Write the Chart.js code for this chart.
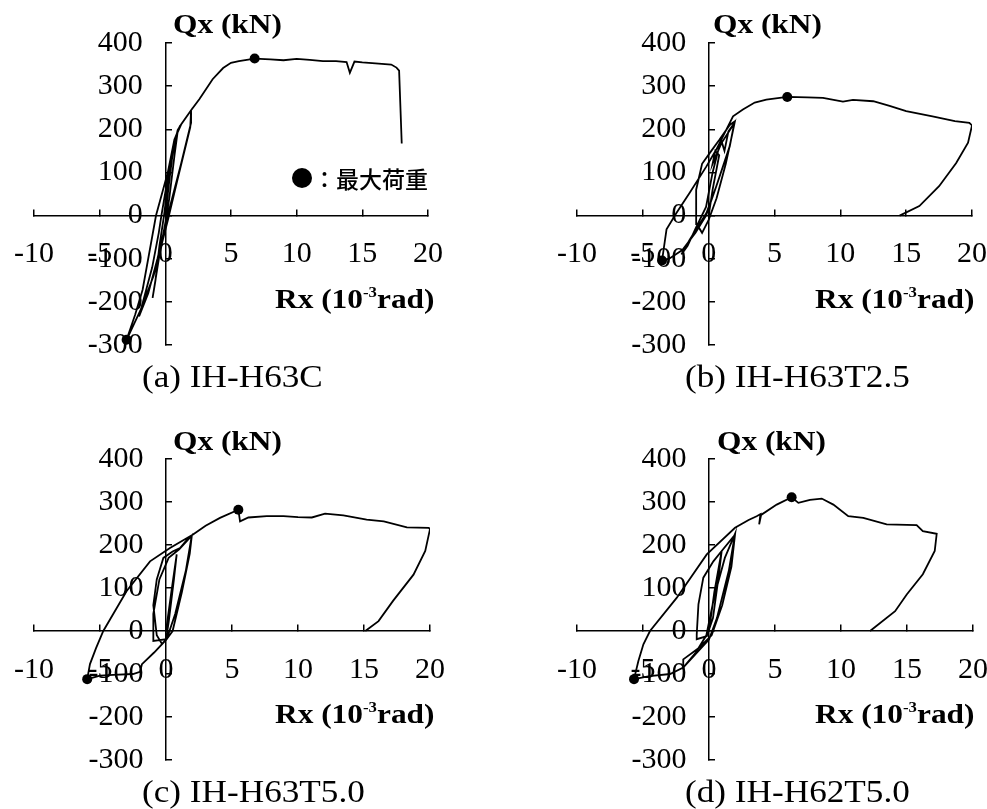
<!DOCTYPE html>
<html>
<head>
<meta charset="utf-8">
<script src="https://cdn.jsdelivr.net/npm/chart.js@4/dist/chart.umd.min.js"></script>
<style>
  body { margin: 0; background: #fff; }
  #page { position: relative; width: 987px; height: 809px; overflow: hidden; }
  canvas { position: absolute; }
  .t { position: absolute; font-family: "Liberation Serif", "Times New Roman", serif; line-height: 1; white-space: nowrap; color: #000; transform-origin: 0 0; }
  .ax { font-size: 28px; font-weight: bold; transform: scaleX(1.12); }
  .cap { font-size: 32px; transform: scaleX(1.1); }
  .ax sup { font-size: 15px; vertical-align: 11px; line-height: 0; }
  .leg { position: absolute; font-family: "Noto Sans CJK JP", sans-serif; font-size: 23px; font-weight: 500; line-height: 23px; white-space: nowrap; }
  .dot { position: absolute; width: 20px; height: 20px; border-radius: 50%; background: #000; }
</style>
</head>
<body>
<div id="page">
  <canvas id="gA" width="494" height="400" style="left:-16px;top:0"></canvas>
  <canvas id="gB" width="495" height="400" style="left:527px;top:0"></canvas>
  <canvas id="gC" width="496" height="409" style="left:-16px;top:400px"></canvas>
  <canvas id="gD" width="496" height="409" style="left:527px;top:400px"></canvas>

  <div class="t ax" style="left:173px;top:10px">Qx (kN)</div>
  <div class="t ax" style="left:275px;top:285px">Rx (10<sup>-3</sup>rad)</div>
  <div class="t cap" style="left:142px;top:360px">(a) IH-H63C</div>
  <div class="dot" style="left:292px;top:168px"></div>
  <div class="leg" style="left:313px;top:167px">：最大荷重</div>

  <div class="t ax" style="left:713px;top:10px">Qx (kN)</div>
  <div class="t ax" style="left:815px;top:285px">Rx (10<sup>-3</sup>rad)</div>
  <div class="t cap" style="left:685px;top:360px">(b) IH-H63T2.5</div>

  <div class="t ax" style="left:173px;top:427px">Qx (kN)</div>
  <div class="t ax" style="left:275px;top:700px">Rx (10<sup>-3</sup>rad)</div>
  <div class="t cap" style="left:142px;top:775px">(c) IH-H63T5.0</div>

  <div class="t ax" style="left:717px;top:427px">Qx (kN)</div>
  <div class="t ax" style="left:815px;top:700px">Rx (10<sup>-3</sup>rad)</div>
  <div class="t cap" style="left:685px;top:775px">(d) IH-H62T5.0</div>
</div>
<script>
// eixos
var rxTicks = [-10, -5, 0, 5, 10, 15, 20];
var qxTicks = [-300, -200, -100, 0, 100, 200, 300, 400];

// (a) IH-H63C
var rxA = [0, 0.3, 0.69, 0.94, 0.7, 0.3, 0.1, -0.46, -0.97, -0.75, -0.45, -0.1, 0.3, 0.8, 0.94, 1.2, 1.96, 1.96, 1.2, 0.18, -0.6, -1.3, -2.0, -1.7, -1.0, -0.5, -0.3, 0.2, 0.69, 1.2, 1.96, 1.9, 0.9, 0.2, -0.9, -1.9, -2.95, -2.3, -1.73, -0.71, 0.18, 0.69, 1.2, 1.96, 2.6, 3.6, 4.4, 5.0, 5.6, 6.8, 8, 9, 10, 11, 12, 13, 13.8, 14.05, 14.4, 15, 16, 17.2, 17.6, 17.8, 18.0];
var qxA = [0, 80, 176, 195, 140, 40, 0, -94, -191, -150, -70, 0, 100, 180, 198, 211, 244, 215, 120, 0, -100, -180, -234, -200, -120, -40, 0, 90, 176, 211, 244, 205, 80, -10, -140, -220, -288, -230, -172, 0, 99, 176, 211, 244, 270, 316, 342, 354, 358, 364, 362, 360, 363, 361, 358, 358, 356, 331, 357, 355, 353, 350, 343, 336, 167];
var maxRxA = [6.8, -2.95];
var maxQxA = [364, -288];

// (b) IH-H63T2.5
var rxB = [0, 0.3, 0.8, 0.5, 0.3, 1.0, 1.2, 1.5, 1.97, 1.8, 1.3, 0.6, 0, -0.5, -0.9, -0.95, -0.5, 0.2, 0.8, 1.6, 1.97, 1.6, 0.58, -0.17, -1.44, -2.07, -1.6, -1.0, -0.2, 0.3, 0.8, 1.97, 1.6, 0.58, -0.2, -1.0, -2.0, -3.0, -3.54, -3.2, -2.45, -1.44, -0.17, 0.58, 1.85, 2.6, 3.5, 4.38, 5.97, 7.5, 8.68, 10.2, 10.96, 12.5, 13.74, 15.0, 17.0, 18.7, 19.8, 20.0, 19.7, 18.8, 17.5, 16.0, 14.5];
var qxB = [0, 60, 140, 150, 120, 170, 150, 195, 215, 190, 120, 40, -10, -40, -20, 60, 120, 150, 175, 210, 218, 160, 68, 6, -56, -90, -70, -30, 20, 100, 160, 215, 161, 68, 0, -40, -80, -100, -104, -32, 6, 53, 114, 153, 230, 246, 262, 269, 275, 274, 273, 264, 268, 265, 254, 242, 230, 219, 215, 209, 169, 122, 68, 22, 0];
var maxRxB = [5.97, -3.54];
var maxQxB = [275, -104];

// (c) IH-H63T5.0
var rxC = [0, 0.4, 0.81, 0.6, 0.2, 0, -0.3, -0.7, -0.96, -0.7, -0.2, 0.5, 1.06, 1.69, 1.95, 1.8, 1.2, 0.5, 0.05, -0.96, -0.96, -0.5, 0.2, 1.0, 1.95, 1.5, 0.7, 0.05, -0.9, -1.82, -1.97, -2.5, -4, -5.0, -5.97, -5.76, -5.3, -4.75, -2.98, -1.21, 0.3, 2.02, 3.0, 4.09, 5.48, 5.61, 6.24, 7.63, 8.9, 10, 11.05, 12.05, 13.44, 15.2, 16.5, 18.25, 19.9, 20, 19.64, 18.75, 17.2, 16.1, 15.1];
var qxC = [0, 90, 178, 120, 20, -20, -30, -10, 60, 120, 170, 185, 193, 216, 220, 180, 90, 0, -19, -23, 40, 120, 170, 190, 222, 140, 40, -19, -50, -77, -95, -100, -102, -104, -112, -77, -40, 0, 93, 162, 193, 224, 245, 263, 282, 255, 264, 267, 267, 265, 264, 273, 269, 259, 255, 241, 240, 237, 186, 131, 70, 23, 0];
var maxRxC = [5.48, -5.97];
var maxQxC = [282, -112];

// (d) IH-H62T5.0
var rxD = [0, 0.4, 0.96, 0.7, 0.3, -0.17, -0.93, -0.93, -0.8, -0.43, 0.33, 0.96, 1.97, 1.7, 1.0, 0.2, -0.8, -1.95, -1.95, -1.0, -0.2, 0.4, 1.2, 1.97, 1.5, 0.6, 0, -1.95, -2.95, -4.5, -5.68, -5.35, -4.97, -4.47, -2.45, -0.17, 1.97, 3.0, 3.61, 3.9, 3.8, 3.95, 5.13, 6.26, 6.77, 7.65, 8.54, 9.42, 10.55, 11.69, 13.46, 15.73, 16.2, 17.25, 17.1, 16.2, 14.98, 14.1, 12.2];
var qxD = [0, 90, 186, 120, 30, -12, -19, -8, 62, 124, 162, 186, 224, 150, 60, -10, -40, -66, -85, -50, -10, 80, 170, 226, 140, 30, -20, -85, -100, -105, -112, -70, -31, 0, 77, 178, 240, 258, 267, 272, 248, 270, 294, 311, 298, 305, 308, 294, 267, 263, 248, 246, 232, 226, 186, 132, 85, 46, 0];
var maxRxD = [6.26, -5.68];
var maxQxD = [311, -112];

function pontos(xs, ys) {
    var lista = [];
    for (var i = 0; i < xs.length; i++) {
        lista.push({ x: xs[i], y: ys[i] });
    }
    return lista;
}

function plotar(id, xs, ys, mx, my, pad) {
    var ctx = document.getElementById(id).getContext('2d');
    var fonte = { family: '"Liberation Serif", "Times New Roman", serif', size: 30 };
    return new Chart(ctx, {
        type: 'scatter',
        data: {
            datasets: [{
                data: pontos(xs, ys),
                showLine: true,
                borderColor: '#000',
                borderWidth: 1.8,
                pointRadius: 0,
                tension: 0
            }, {
                data: pontos(mx, my),
                showLine: false,
                pointRadius: 5,
                pointBackgroundColor: '#000',
                pointBorderColor: '#000',
                pointBorderWidth: 0
            }]
        },
        options: {
            responsive: false,
            animation: false,
            layout: { padding: pad },
            plugins: { legend: { display: false }, tooltip: { enabled: false } },
            scales: {
                x: {
                    type: 'linear',
                    position: { y: 0 },
                    min: rxTicks[0],
                    max: rxTicks[rxTicks.length - 1],
                    afterBuildTicks: function (s) { s.ticks = rxTicks.map(function (v) { return { value: v }; }); },
                    border: { color: '#000', width: 1.5 },
                    grid: { drawOnChartArea: false, color: '#000', lineWidth: 1.5, tickLength: -7 },
                    ticks: { color: '#000', font: fonte, padding: 28, maxRotation: 0, autoSkip: false }
                },
                y: {
                    type: 'linear',
                    position: { x: 0 },
                    min: qxTicks[0],
                    max: qxTicks[qxTicks.length - 1],
                    afterBuildTicks: function (s) { s.ticks = qxTicks.map(function (v) { return { value: v }; }); },
                    border: { color: '#000', width: 1.5 },
                    grid: { drawOnChartArea: false, color: '#000', lineWidth: 1.5, tickLength: -7 },
                    // rotulos encostam no eixo quando ele fica no zero, os espacos afastam
                    ticks: { color: '#000', font: fonte, autoSkip: false, callback: function (v) { return v + '   '; } }
                }
            }
        }
    });
}

plotar('gA', rxA, qxA, maxRxA, maxQxA, { left: 50, right: 50, top: 43, bottom: 55 });
plotar('gB', rxB, qxB, maxRxB, maxQxB, { left: 50, right: 50, top: 43, bottom: 55 });
plotar('gC', rxC, qxC, maxRxC, maxQxC, { left: 50, right: 50, top: 59, bottom: 49 });
plotar('gD', rxD, qxD, maxRxD, maxQxD, { left: 50, right: 50, top: 59, bottom: 49 });
</script>
</body>
</html>
